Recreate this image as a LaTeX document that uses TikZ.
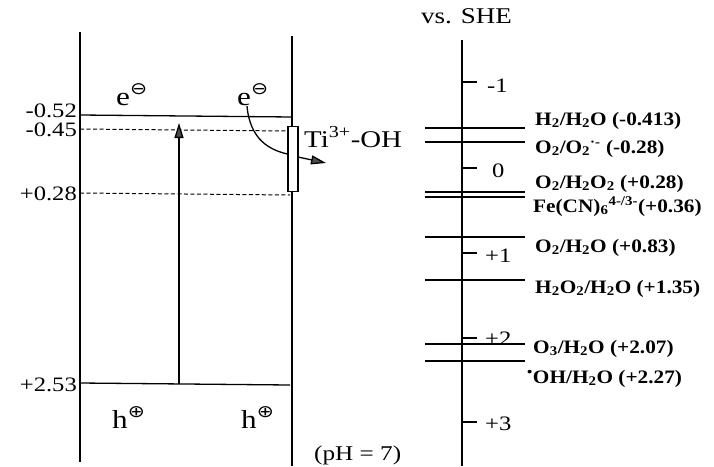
\documentclass[tikz,border=0pt]{standalone}
\usepackage{fontspec}
\setmainfont{Liberation Serif}
\newfontfamily\dvsym{DejaVu Sans}
\newcommand\stretchtxt[1]{\scalebox{1.2}[1]{#1}}
\newcommand\boldstretch[1]{\scalebox{1.12}[1]{#1}}
\newcommand\eminus{\raisebox{0.42em}{\fontsize{17}{17}\selectfont\dvsym ⊖}}
\newcommand\eplus{\raisebox{0.42em}{\fontsize{17}{17}\selectfont\dvsym ⊕}}
\usetikzlibrary{arrows.meta}
\tikzset{
  ln/.style={line width=1.3pt},
  dsh/.style={line width=1pt, dash pattern=on 4pt off 2.5pt},
  lbl/.style={inner sep=0pt, font=\fontsize{20.5}{24}\selectfont},
  big/.style={inner sep=0pt, font=\fontsize{26}{30}\selectfont},
  rlbl/.style={inner sep=0pt, anchor=base west, font=\fontsize{19}{22}\selectfont\bfseries},
  tip/.style={-{Triangle[length=15pt,width=9pt,fill=gray!60!black]}}
}
\begin{document}
\begin{tikzpicture}[x=1pt,y=-1pt]
\useasboundingbox (0,0) rectangle (714,466);
% band edges
\coordinate (lt) at (80,32);  \coordinate (lb) at (80,462);
\coordinate (rt) at (292,36); \coordinate (rb) at (292,466);
\draw[ln] (lt) -- (lb);
\draw[ln] (rt) -- (rb);
\coordinate (cbl) at (80,115); \coordinate (cbr) at (292,117);
\draw[ln] (cbl) -- (cbr);
\coordinate (d1l) at (80,129); \coordinate (d1r) at (288,131);
\draw[dsh] (d1l) -- (d1r);
\coordinate (d2l) at (80,193); \coordinate (d2r) at (290,195);
\draw[dsh] (d2l) -- (d2r);
\coordinate (vbl) at (80,383); \coordinate (vbr) at (290,385);
\draw[ln] (vbl) -- (vbr);
% excitation arrow
\coordinate (ab) at (179,384); \coordinate (at) at (179,123);
\draw[ln,tip] (ab) -- (at);
% labels left
\node[lbl,anchor=base east] (l52) at (77,117) {\stretchtxt{-0.52}};
\node[lbl,anchor=base east] (l45) at (77,136) {\stretchtxt{-0.45}};
\node[lbl,anchor=base east] (l28) at (77,200) {\stretchtxt{+0.28}};
\node[lbl,anchor=base east] (l253) at (77,391) {\stretchtxt{+2.53}};
% electrons and holes
\node[big,anchor=base west] (e1) at (116,105) {\stretchtxt{e\eminus}};
\node[big,anchor=base west] (e2) at (237,105) {\stretchtxt{e\eminus}};
\node[big,anchor=base west] (h1) at (112,428) {\stretchtxt{h\eplus}};
\node[big,anchor=base west] (h2) at (241,428) {\stretchtxt{h\eplus}};
% Ti box
\node[draw,ln,fill=white,minimum width=10pt,minimum height=65pt,inner sep=0pt] (box) at (293,159) {};
\draw[ln] (247,106) .. controls (250,140) and (270,150) .. (box.west |- 0,154);
\coordinate (ts) at (298,157); \coordinate (te) at (326,163);
\draw[ln,tip] (ts) -- (te);
\node[inner sep=0pt,anchor=base west,font=\fontsize{24}{28}\selectfont] (ti) at (304,147) {\stretchtxt{Ti\textsuperscript{3+}-OH}};
\node[inner sep=0pt,anchor=base west,font=\fontsize{21}{24}\selectfont] (ph) at (314,460) {\stretchtxt{(pH = 7)}};
% right scale
\node[inner sep=0pt,anchor=base west,font=\fontsize{22.5}{26}\selectfont] (she) at (421,23) {\stretchtxt{vs. SHE}};
\coordinate (axt) at (462,40); \coordinate (axb) at (462,466);
\draw[ln] (axt) -- (axb);
\foreach \yy/\tx/\xx/\bb in {82/-1/487/92, 168/0/492/177, 253/+1/485/262, 338/+2/485/345, 422/+3/485/430}{
  \draw[ln] (462,\yy) -- (477,\yy);
  \node[lbl,anchor=base west] at (\xx,\bb) {\stretchtxt{\tx}};
}
% redox levels
\foreach \yy/\w in {128/1.3, 142/1.3, 192/2.2, 197/1.3, 237/1.3, 280/1.3, 344/1.3, 361/1.3}{
  \draw[line width=\w pt] (425,\yy) -- (525,\yy);
}
\node[rlbl] (r1) at (535,125) {\boldstretch{H\textsubscript{2}/H\textsubscript{2}O (-0.413)}};
\node[rlbl] (r2) at (535,153) {\boldstretch{O\textsubscript{2}/O\textsubscript{2}\textsuperscript{·-} (-0.28)}};
\node[rlbl] (r3) at (535,188) {\boldstretch{O\textsubscript{2}/H\textsubscript{2}O\textsubscript{2} (+0.28)}};
\node[rlbl] (r4) at (533,212) {\boldstretch{Fe(CN)\textsubscript{6}\textsuperscript{4-/3-}(+0.36)}};
\node[rlbl] (r5) at (535,252) {\boldstretch{O\textsubscript{2}/H\textsubscript{2}O (+0.83)}};
\node[rlbl] (r6) at (535,293) {\boldstretch{H\textsubscript{2}O\textsubscript{2}/H\textsubscript{2}O (+1.35)}};
\node[rlbl] (r7) at (533,353) {\boldstretch{O\textsubscript{3}/H\textsubscript{2}O (+2.07)}};
\node[rlbl] (r8) at (527,383) {\boldstretch{\textsuperscript{\textbullet}OH/H\textsubscript{2}O (+2.27)}};
\end{tikzpicture}
\end{document}
